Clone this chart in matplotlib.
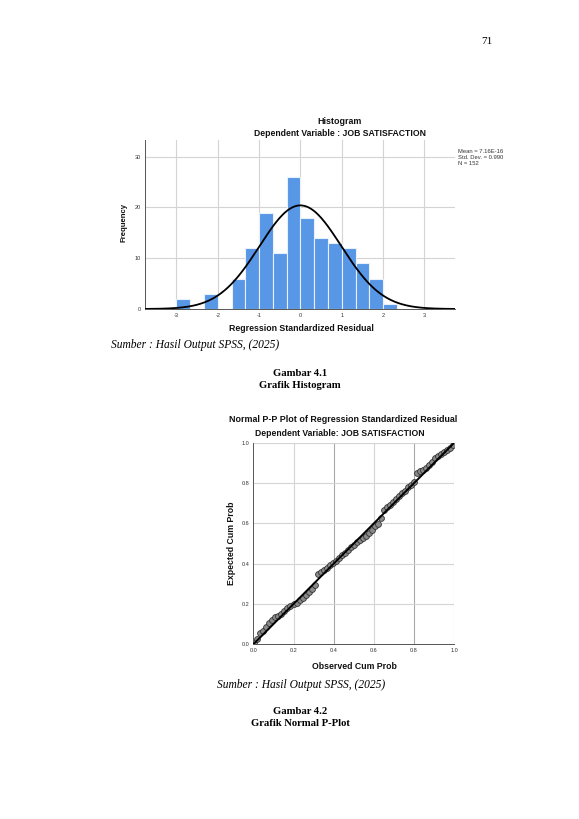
import numpy as np
import matplotlib
matplotlib.use("Agg")
import matplotlib.pyplot as plt

# ---------------- data ----------------
bin_left = [-3.0, -2.667, -2.333, -2.0, -1.667, -1.333, -1.0, -0.667, -0.333,
            0.0, 0.333, 0.667, 1.0, 1.333, 1.667, 2.0]
counts = [2, 0, 3, 0, 6, 12, 19, 11, 26, 18, 14, 13, 12, 9, 6, 1]
bin_width = 1.0 / 3.0
hist_mean = 7.16e-16
hist_sd = 0.990
hist_n = 152
hist_xticks = [-3, -2, -1, 0, 1, 2, 3]
hist_yticks = [0, 10, 20, 30]
stats_lines = ["Mean = 7.16E-16", "Std. Dev. = 0.990", "N = 152"]

pp_obs = [0.005, 0.020, 0.035, 0.050, 0.065, 0.080, 0.095, 0.110, 0.125, 0.140,
          0.155, 0.170, 0.185, 0.200, 0.215, 0.230, 0.245, 0.260, 0.275, 0.290,
          0.305, 0.320, 0.335, 0.350, 0.365, 0.380, 0.395, 0.410, 0.425, 0.440,
          0.455, 0.470, 0.485, 0.500, 0.515, 0.530, 0.545, 0.560, 0.575, 0.590,
          0.605, 0.620, 0.635, 0.650, 0.665, 0.680, 0.695, 0.710, 0.725, 0.740,
          0.755, 0.770, 0.785, 0.800, 0.815, 0.830, 0.845, 0.860, 0.875, 0.890,
          0.905, 0.920, 0.935, 0.950, 0.965, 0.980, 0.995]
pp_exp = [0.008, 0.025, 0.055, 0.068, 0.085, 0.105, 0.122, 0.133, 0.142, 0.152,
          0.165, 0.180, 0.192, 0.198, 0.207, 0.218, 0.232, 0.245, 0.258, 0.275,
          0.292, 0.350, 0.358, 0.368, 0.378, 0.392, 0.403, 0.415, 0.428, 0.442,
          0.452, 0.468, 0.482, 0.495, 0.505, 0.515, 0.525, 0.538, 0.552, 0.568,
          0.585, 0.598, 0.625, 0.668, 0.680, 0.692, 0.708, 0.722, 0.738, 0.750,
          0.762, 0.778, 0.790, 0.805, 0.852, 0.862, 0.866, 0.875, 0.888, 0.905,
          0.922, 0.932, 0.942, 0.955, 0.962, 0.972, 0.990]
pp_ticks = [0.0, 0.2, 0.4, 0.6, 0.8, 1.0]
pp_ticklabels = ["0.0", "0.2", "0.4", "0.6", "0.8", "1.0"]

# ---------------- figure ----------------
W, H = 579, 819
fig = plt.figure(figsize=(W / 100, H / 100), dpi=100)
fig.patch.set_facecolor("white")
SANS = "Liberation Sans"
SERIF = "Liberation Serif"


def fx(x):
    return x / W


def fy(y):
    return 1 - y / H


def axes_px(l, t, r, b):
    return [fx(l), fy(b), (r - l) / W, (b - t) / H]


# ---------------- histogram ----------------
ax1 = fig.add_axes(axes_px(145, 140, 455, 309))
ax1.set_xlim(-3.76, 3.74)
ax1.set_ylim(0, 33.3)
for xv in hist_xticks:
    ax1.axvline(xv, color="#d4d4d4", lw=0.8, zorder=0)
for yv in hist_yticks[1:]:
    ax1.axhline(yv, color="#d4d4d4", lw=0.8, zorder=0)
ax1.bar(bin_left, counts, width=bin_width, align="edge", color="#5896e6",
        edgecolor="#e8f0fb", linewidth=0.8, zorder=2)
xs = np.linspace(-3.76, 3.74, 400)
ys = hist_n * bin_width * np.exp(-0.5 * ((xs - hist_mean) / hist_sd) ** 2) / (hist_sd * np.sqrt(2 * np.pi))
ax1.plot(xs, ys, color="black", lw=1.3, zorder=3)
ax1.set_xticks(hist_xticks)
ax1.set_xticklabels([str(v) for v in hist_xticks])
ax1.set_yticks(hist_yticks)
ax1.set_yticklabels([str(v) for v in hist_yticks])
ax1.tick_params(length=0, labelsize=4.0, pad=3, colors="#333333")
for lab in ax1.get_xticklabels() + ax1.get_yticklabels():
    lab.set_family(SANS)
for s in ["top", "right"]:
    ax1.spines[s].set_visible(False)
for s in ["left", "bottom"]:
    ax1.spines[s].set_color("#555555")
    ax1.spines[s].set_linewidth(0.7)

fig.text(fx(340), fy(121), "Histogram", ha="center", va="center",
         family=SANS, fontsize=6.4, fontweight="bold", color="#111111")
fig.text(fx(340), fy(134), "Dependent Variable : JOB SATISFACTION", ha="center",
         va="center", family=SANS, fontsize=6.2, fontweight="bold", color="#111111")
fig.text(fx(301), fy(328.5), "Regression Standardized Residual", ha="center",
         va="center", family=SANS, fontsize=6.3, fontweight="bold", color="#111111")
fig.text(fx(123.5), fy(223), "Frequency", ha="center", va="center", rotation=90,
         family=SANS, fontsize=5.6, fontweight="bold", color="#111111")
for i, line in enumerate(stats_lines):
    fig.text(fx(458), fy(151.7 + 5.8 * i), line, ha="left", va="center",
             family=SANS, fontsize=4.2, color="#333333")

# ---------------- P-P plot ----------------
ax2 = fig.add_axes(axes_px(253.3, 442.7, 454.3, 644.3))
ax2.set_xlim(0, 1)
ax2.set_ylim(0, 1)
for xv in pp_ticks[1:]:
    c = "#a8a8a8" if xv in (0.4, 0.8) else "#d4d4d4"
    ax2.axvline(xv, color=c, lw=0.8, zorder=0)
for yv in pp_ticks[1:]:
    ax2.axhline(yv, color="#d4d4d4", lw=0.8, zorder=0)
ax2.plot([0, 1], [0, 1], color="black", lw=1.4, zorder=3)
ax2.plot(pp_obs, pp_exp, linestyle="none", marker="o", markersize=4.2,
         markerfacecolor="#8a8a8a", markeredgecolor="#333333",
         markeredgewidth=0.6, zorder=2)
ax2.set_xticks(pp_ticks)
ax2.set_xticklabels(pp_ticklabels)
ax2.set_yticks(pp_ticks)
ax2.set_yticklabels(pp_ticklabels)
ax2.tick_params(length=0, labelsize=4.0, pad=3, colors="#333333")
for lab in ax2.get_xticklabels() + ax2.get_yticklabels():
    lab.set_family(SANS)
for s in ["top", "right"]:
    ax2.spines[s].set_visible(False)
for s in ["left", "bottom"]:
    ax2.spines[s].set_color("#555555")
    ax2.spines[s].set_linewidth(0.7)

fig.text(fx(343), fy(420), "Normal P-P Plot of Regression Standardized Residual",
         ha="center", va="center", family=SANS, fontsize=6.4, fontweight="bold",
         color="#111111")
fig.text(fx(340), fy(434), "Dependent Variable: JOB SATISFACTION", ha="center",
         va="center", family=SANS, fontsize=6.2, fontweight="bold", color="#111111")
fig.text(fx(354), fy(666.5), "Observed Cum Prob", ha="center", va="center",
         family=SANS, fontsize=6.3, fontweight="bold", color="#111111")
fig.text(fx(231.5), fy(543), "Expected Cum Prob", ha="center", va="center",
         rotation=90, family=SANS, fontsize=6.3, fontweight="bold", color="#111111")

# ---------------- page text ----------------
fig.text(fx(487), fy(42), "71", ha="center", va="center", family=SERIF,
         fontsize=8, color="black")
fig.text(fx(111), fy(345), "Sumber : Hasil Output SPSS, (2025)", ha="left",
         va="center", family=SERIF, style="italic", fontsize=8.3, color="black")
fig.text(fx(300), fy(373.5), "Gambar 4.1", ha="center", va="center", family=SERIF,
         fontweight="bold", fontsize=7.7, color="black")
fig.text(fx(300), fy(386), "Grafik Histogram", ha="center", va="center",
         family=SERIF, fontweight="bold", fontsize=7.7, color="black")
fig.text(fx(217), fy(685), "Sumber : Hasil Output SPSS, (2025)", ha="left",
         va="center", family=SERIF, style="italic", fontsize=8.3, color="black")
fig.text(fx(300), fy(711), "Gambar 4.2", ha="center", va="center", family=SERIF,
         fontweight="bold", fontsize=7.7, color="black")
fig.text(fx(300), fy(723.5), "Grafik Normal P-Plot", ha="center", va="center",
         family=SERIF, fontweight="bold", fontsize=7.7, color="black")

fig.savefig("out.png", dpi=100, facecolor="white")
